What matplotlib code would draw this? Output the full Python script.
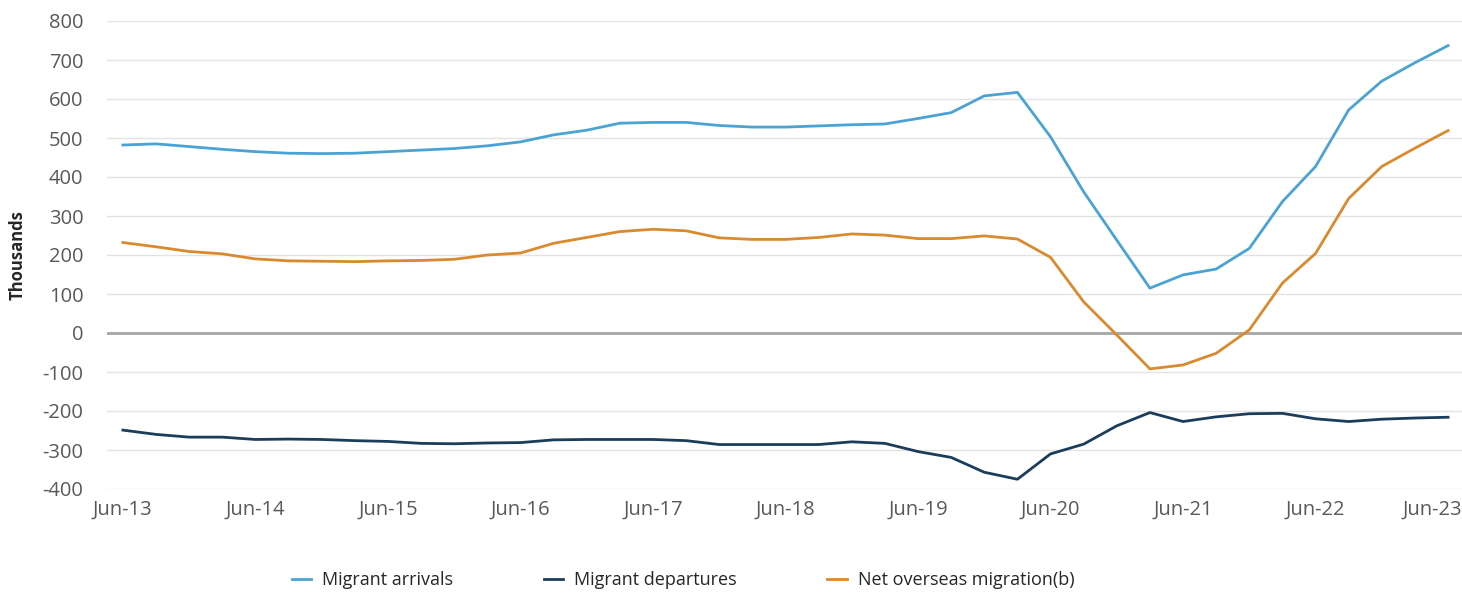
import matplotlib
matplotlib.use("Agg")
import matplotlib.pyplot as plt
import matplotlib.transforms as mtransforms

plt.rcParams['font.family'] = ['Open Sans', 'DejaVu Sans']

quarters = ["Jun-13", "Sep-13", "Dec-13", "Mar-14",
            "Jun-14", "Sep-14", "Dec-14", "Mar-15",
            "Jun-15", "Sep-15", "Dec-15", "Mar-16",
            "Jun-16", "Sep-16", "Dec-16", "Mar-17",
            "Jun-17", "Sep-17", "Dec-17", "Mar-18",
            "Jun-18", "Sep-18", "Dec-18", "Mar-19",
            "Jun-19", "Sep-19", "Dec-19", "Mar-20",
            "Jun-20", "Sep-20", "Dec-20", "Mar-21",
            "Jun-21", "Sep-21", "Dec-21", "Mar-22",
            "Jun-22", "Sep-22", "Dec-22", "Mar-23",
            "Jun-23"]

arrivals = [482, 485, 478, 471, 465, 461, 460, 461,
            465, 469, 473, 480, 490, 508, 520, 538,
            540, 540, 532, 528, 528, 531, 534, 536,
            550, 565, 608, 617, 503, 362, 238, 115,
            149, 164, 217, 337, 427, 572, 646, 693,
            737]

departures = [-249, -260, -267, -267, -273, -272, -273, -276,
              -278, -283, -284, -282, -281, -274, -273, -273,
              -273, -276, -286, -286, -286, -286, -279, -283,
              -304, -319, -357, -375, -310, -285, -238, -204,
              -227, -215, -207, -206, -220, -227, -221, -218,
              -216]

net = [232, 221, 209, 203, 190, 185, 184, 183,
       185, 186, 189, 200, 205, 230, 245, 260,
       266, 262, 244, 240, 240, 245, 254, 251,
       242, 242, 249, 241, 194, 80, -5, -92,
       -82, -52, 8, 128, 204, 345, 427, 474,
       519]

series_names = ["Migrant arrivals", "Migrant departures", "Net overseas migration(b)"]
colors = ["#4BA3D3", "#1C3D5A", "#D98A2E"]

yticks = [800, 700, 600, 500, 400, 300, 200, 100, 0, -100, -200, -300, -400]

W, H = 1462, 594
fig = plt.figure(figsize=(W / 100, H / 100), dpi=100)
ax = fig.add_axes([107 / W, (H - 489) / H, (W - 107) / W, 468 / H])

x = list(range(len(quarters)))
for vals, name, c in zip([arrivals, departures, net], series_names, colors):
    ax.plot(x, vals, color=c, lw=2.0, label=name, solid_joinstyle='round', zorder=3)

ax.set_ylim(-400, 800)
ax.set_xlim(-0.48, 40.42)
ax.set_yticks(yticks)
ax.set_yticklabels([str(v) for v in yticks])
ax.grid(axis='y', color='#E3E3E3', lw=1.0, zorder=0)
ax.axhline(0, color='#A6A6A6', lw=2.0, zorder=2)

tick_idx = list(range(0, len(quarters), 4))
ax.set_xticks(tick_idx)
ax.set_xticklabels([quarters[i] for i in tick_idx])

for s in ax.spines.values():
    s.set_visible(False)
ax.tick_params(axis='both', length=0, colors='#595959', labelsize=14.5)
ax.tick_params(axis='y', pad=17)
ax.tick_params(axis='x', pad=8)

# shift last x tick label so it stays within the figure
labels = ax.get_xticklabels()
offset = mtransforms.ScaledTranslation(-16 / 100, 0, fig.dpi_scale_trans)
labels[-1].set_transform(labels[-1].get_transform() + offset)

ax.set_ylabel("Thousands", fontsize=12, fontweight='bold', color='#262626')
ax.yaxis.set_label_coords(27 / W, 1 - 255 / H, transform=fig.transFigure)

leg = fig.legend(loc='center', bbox_to_anchor=(683 / W, 1 - 580 / H), ncol=3,
                 frameon=False, fontsize=13, handlelength=1.1, handletextpad=0.6,
                 columnspacing=5.0)
for t in leg.get_texts():
    t.set_color('#262626')

fig.savefig("out.png", dpi=100)
